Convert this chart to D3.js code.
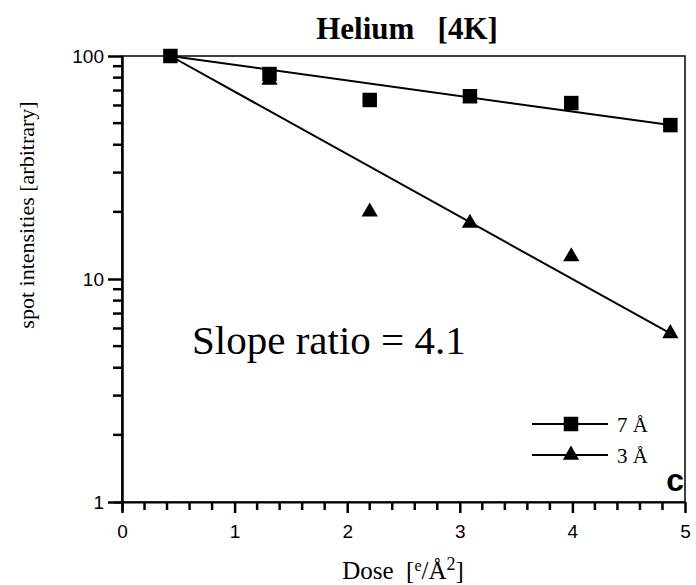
<!DOCTYPE html>
<html>
<head>
<meta charset="utf-8">
<script src="https://cdn.jsdelivr.net/npm/d3@7"></script>
<style>
  body { margin: 0; background: #fff; }
  svg { display: block; }
</style>
</head>
<body>
<svg id="chart" width="696" height="585"></svg>
<script>
// dose values [e/Å²] and spot intensities
const dose = [0.43, 1.31, 2.2, 3.09, 3.99, 4.87];
const res7 = [100, 83, 63.5, 66, 61.5, 49];
const res3 = [100, 78, 20, 17.8, 12.6, 5.7];
// fitted lines: [dose, intensity] end points
const fit7 = [[0.43, 100], [4.87, 49]];
const fit3 = [[0.43, 100], [4.87, 5.7]];
const xTicks = [0, 1, 2, 3, 4, 5];
const yTicks = [1, 10, 100];

const SERIF = '"Liberation Serif", "Times New Roman", serif';
const SANS = '"Liberation Sans", Arial, Helvetica, sans-serif';

const svg = d3.select('#chart');
const plotL = 122, plotR = 685, plotT = 56, plotB = 502;

const x = d3.scaleLinear().domain([0, 5]).range([plotL, plotR]);
const y = d3.scaleLog().domain([1, 100]).range([plotB, plotT]);

// frame
svg.append('rect')
    .attr('x', plotL).attr('y', plotT)
    .attr('width', plotR - plotL).attr('height', plotB - plotT)
    .attr('fill', 'none').attr('stroke', '#000').attr('stroke-width', 1.5);

// minor ticks
const xMinor = d3.range(1, 25).map(i => i * 0.2).filter(v => Math.abs(v - Math.round(v)) > 0.01);
svg.append('g').attr('class', 'x-minor').selectAll('line')
    .data(xMinor)
    .enter().append('line')
    .attr('x1', d => x(d)).attr('x2', d => x(d))
    .attr('y1', plotB).attr('y2', plotB + 8)
    .style('stroke', '#000').style('stroke-width', '2.5px');

const yMinor = [];
[1, 10].forEach(d => { for (let k = 2; k <= 9; k++) yMinor.push(d * k); });
svg.append('g').attr('class', 'y-minor').selectAll('line')
    .data(yMinor)
    .enter().append('line')
    .attr('x1', plotL - 9).attr('x2', plotL)
    .attr('y1', d => y(d)).attr('y2', d => y(d))
    .style('stroke', '#000').style('stroke-width', '2.5px');

// x axis
const xAxis = svg.append('g')
    .attr('transform', `translate(0,${plotB})`)
    .call(d3.axisBottom(x).tickValues(xTicks).tickSize(11).tickPadding(12).tickFormat(d3.format('d')))
    .call(g => g.select('.domain').attr('d', `M${plotL - 8},0.5H${plotR}`).attr('stroke-width', 2));
xAxis.selectAll('line').attr('stroke-width', 2.5);
xAxis.selectAll('text').style('font-family', SANS).style('font-size', '19px').attr('fill', '#000');

// y axis (log)
const yAxis = svg.append('g')
    .attr('transform', `translate(${plotL},0)`)
    .call(d3.axisLeft(y).tickValues(yTicks).tickSize(14).tickPadding(4).tickFormat(d3.format('d')))
    .call(g => g.select('.domain').attr('d', `M0.5,${plotT}V${plotB + 9}`).attr('stroke-width', 2.5));
yAxis.selectAll('line').attr('stroke-width', 2.5);
yAxis.selectAll('text').style('font-family', SANS).style('font-size', '19px').attr('fill', '#000');

// fit lines
const line = d3.line().x(d => x(d[0])).y(d => y(d[1]));
[fit7, fit3].forEach(f => {
    svg.append('path').attr('d', line(f))
        .attr('fill', 'none').attr('stroke', '#000').attr('stroke-width', 2);
});

// markers
const square = d3.symbol().type(d3.symbolSquare).size(210);
const tri = d3.symbol().type(d3.symbolTriangle).size(115);
svg.append('g').selectAll('path')
    .data(dose.map((d, i) => [d, res3[i]]).slice(1))
    .enter().append('path')
    .attr('d', tri)
    .attr('transform', d => `translate(${x(d[0])},${y(d[1])})`)
    .attr('fill', '#000');
svg.append('g').selectAll('path')
    .data(dose.map((d, i) => [d, res7[i]]))
    .enter().append('path')
    .attr('d', square)
    .attr('transform', d => `translate(${x(d[0])},${y(d[1])})`)
    .attr('fill', '#000');

// legend
const legend = [
    { label: '7 Å', sym: square, y: 424 },
    { label: '3 Å', sym: tri, y: 455 }
];
legend.forEach(l => {
    svg.append('line').attr('x1', 532).attr('x2', 608).attr('y1', l.y).attr('y2', l.y)
        .attr('stroke', '#000').attr('stroke-width', 2);
    svg.append('path').attr('d', l.sym).attr('transform', `translate(571,${l.y})`).attr('fill', '#000');
    svg.append('text').attr('x', 617).attr('y', l.y + 8)
        .style('font-family', SERIF).style('font-size', '21px').text(l.label);
});
svg.append('text').attr('x', 684).attr('y', 491)
    .attr('text-anchor', 'end').style('font-family', SANS)
    .style('font-size', '32px').style('font-weight', 'bold').text('c');

// title and labels
svg.append('text').attr('x', 407).attr('y', 39)
    .attr('text-anchor', 'middle').style('font-family', SERIF)
    .style('font-size', '31px').style('font-weight', 'bold')
    .attr('xml:space', 'preserve').text('Helium   [4K]');

svg.append('text')
    .attr('transform', 'translate(34,215) rotate(-90)')
    .attr('text-anchor', 'middle').style('font-family', SERIF).style('font-size', '22px')
    .text('spot intensities [arbitrary]');

const xl = svg.append('text').attr('x', 403).attr('y', 579)
    .attr('text-anchor', 'middle').attr('xml:space', 'preserve')
    .style('font-family', SERIF).style('font-size', '25px');
xl.append('tspan').text('Dose  [');
xl.append('tspan').attr('dy', -8).style('font-size', '16px').text('e');
xl.append('tspan').attr('dy', 8).text('/Å');
xl.append('tspan').attr('dy', -9).style('font-size', '18px').text('2');
xl.append('tspan').attr('dy', 9).text(']');

svg.append('text').attr('x', 192).attr('y', 354)
    .style('font-family', SERIF).style('font-size', '41px').text('Slope ratio = 4.1');
</script>
</body>
</html>
